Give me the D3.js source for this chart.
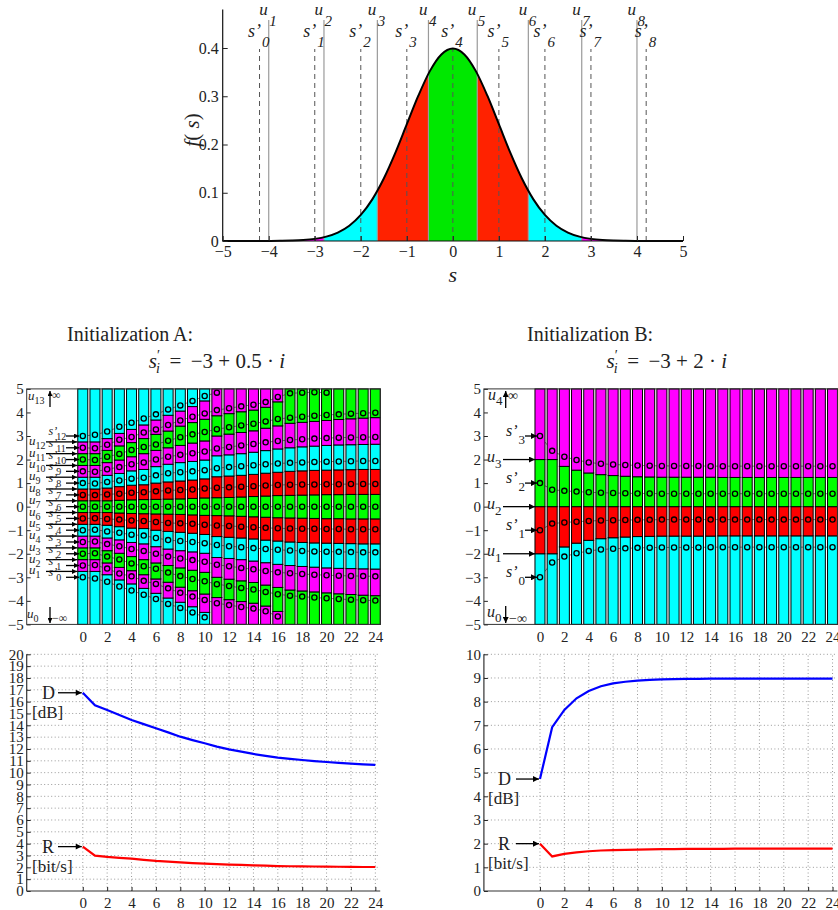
<!DOCTYPE html>
<html>
<head>
<meta charset="utf-8">
<script src="https://cdnjs.cloudflare.com/ajax/libs/d3/7.8.5/d3.min.js"></script>
<style>
  body { margin: 0; background: #fff; }
  text { font-family: "Liberation Serif", "Times New Roman", serif; fill: #222; }
</style>
</head>
<body>
<script>
// ---------- data ----------

// top panel: source density f(s), read at s = -5 .. 5 (step 0.25)
var pdfS = [-5,-4.75,-4.5,-4.25,-4,-3.75,-3.5,-3.25,-3,-2.75,-2.5,-2.25,-2,-1.75,-1.5,-1.25,-1,-0.75,-0.5,-0.25,
            0,0.25,0.5,0.75,1,1.25,1.5,1.75,2,2.25,2.5,2.75,3,3.25,3.5,3.75,4,4.25,4.5,4.75,5];
var pdfF = [0,0,0,0,0.0001,0.0004,0.0009,0.0020,0.0044,0.0091,0.0175,0.0317,0.0540,0.0863,0.1295,0.1826,0.2420,0.3011,0.3521,0.3867,
            0.3989,0.3867,0.3521,0.3011,0.2420,0.1826,0.1295,0.0863,0.0540,0.0317,0.0175,0.0091,0.0044,0.0020,0.0009,0.0004,0.0001,0,0,0,0];
var topU = [-4.0, -2.8, -1.64, -0.53, 0.53, 1.64, 2.8, 4.0];          // u_1 .. u_8
var topS = [-4.2, -3.0, -2.0, -1.0, 0, 1.0, 2.0, 3.0, 4.2];           // s'_0 .. s'_8
var topCells = ["g","m","c","r","g","r","c","m","g"];

var iters = [0,1,2,3,4,5,6,7,8,9,10,11,12,13,14,15,16,17,18,19,20,21,22,23,24];
var xTicks = [0,2,4,6,8,10,12,14,16,18,20,22,24];

// initialization A: cell boundaries u and reproduction values s' per iteration
var boundsA = [
  [-2.75,-2.25,-1.75,-1.25,-0.75,-0.25,0.25,0.75,1.25,1.75,2.25,2.75],
  [-2.75,-2.25,-1.75,-1.25,-0.75,-0.25,0.25,0.75,1.25,1.75,2.25,2.75],
  [-2.89,-2.39,-1.87,-1.33,-0.79,-0.25,0.25,0.79,1.33,1.87,2.39,2.89],
  [-3.11,-2.58,-1.98,-1.41,-0.85,-0.27,0.27,0.85,1.41,1.98,2.58,3.11],
  [-3.28,-2.72,-2.12,-1.52,-0.91,-0.29,0.29,0.91,1.52,2.12,2.72,3.28],
  [-3.47,-2.89,-2.25,-1.58,-0.93,-0.30,0.30,0.93,1.58,2.25,2.89,3.47],
  [-3.68,-3.07,-2.39,-1.70,-1.00,-0.31,0.31,1.00,1.70,2.39,3.07,3.68],
  [-3.88,-3.21,-2.50,-1.80,-1.05,-0.32,0.32,1.05,1.80,2.50,3.21,3.88],
  [-4.06,-3.42,-2.60,-1.87,-1.09,-0.33,0.33,1.09,1.87,2.60,3.42,4.06],
  [-4.25,-3.57,-2.70,-1.92,-1.13,-0.35,0.35,1.13,1.92,2.70,3.57,4.25],
  [-4.49,-3.71,-2.79,-1.98,-1.18,-0.37,0.37,1.18,1.98,2.79,3.71,4.49],
  [-3.86,-3.00,-2.16,-1.27,-0.38,0.38,1.27,2.16,3.00,3.86],
  [-3.95,-3.08,-2.20,-1.30,-0.39,0.39,1.30,2.20,3.08,3.95],
  [-4.03,-3.15,-2.25,-1.33,-0.41,0.41,1.33,2.25,3.15,4.03],
  [-4.10,-3.22,-2.31,-1.37,-0.43,0.43,1.37,2.31,3.22,4.10],
  [-4.22,-3.33,-2.38,-1.42,-0.45,0.45,1.42,2.38,3.33,4.22],
  [-4.45,-3.43,-2.45,-1.46,-0.47,0.47,1.46,2.45,3.43,4.45],
  [-3.54,-2.50,-1.50,-0.48,0.48,1.50,2.50,3.54],
  [-3.58,-2.54,-1.52,-0.49,0.49,1.52,2.54,3.58],
  [-3.62,-2.57,-1.54,-0.50,0.50,1.54,2.57,3.62],
  [-3.66,-2.60,-1.55,-0.51,0.51,1.55,2.60,3.66],
  [-3.70,-2.62,-1.56,-0.51,0.51,1.56,2.62,3.70],
  [-3.73,-2.63,-1.57,-0.52,0.52,1.57,2.63,3.73],
  [-3.76,-2.64,-1.58,-0.52,0.52,1.58,2.64,3.76],
  [-3.78,-2.65,-1.58,-0.52,0.52,1.58,2.65,3.78]
];
var pointsA = [
  [-3,-2.5,-2,-1.5,-1,-0.5,0,0.5,1,1.5,2,2.5,3],
  [-3.05,-2.48,-1.98,-1.48,-0.98,-0.49,0,0.49,0.98,1.48,1.98,2.48,3.05],
  [-3.19,-2.63,-2.12,-1.59,-1.05,-0.52,0,0.52,1.05,1.59,2.12,2.63,3.19],
  [-3.39,-2.84,-2.24,-1.68,-1.11,-0.55,0,0.55,1.11,1.68,2.24,2.84,3.39],
  [-3.56,-2.96,-2.41,-1.80,-1.19,-0.59,0,0.59,1.19,1.80,2.41,2.96,3.56],
  [-3.74,-3.15,-2.53,-1.88,-1.23,-0.61,0,0.61,1.23,1.88,2.53,3.15,3.74],
  [-3.92,-3.28,-2.64,-2.00,-1.33,-0.65,0,0.65,1.33,2.00,2.64,3.28,3.92],
  [-4.13,-3.47,-2.80,-2.12,-1.42,-0.69,0,0.69,1.42,2.12,2.80,3.47,4.13],
  [-4.30,-3.66,-2.95,-2.20,-1.46,-0.71,0,0.71,1.46,2.20,2.95,3.66,4.30],
  [-4.49,-3.82,-3.07,-2.27,-1.50,-0.73,0,0.73,1.50,2.27,3.07,3.82,4.49],
  [-4.70,-3.96,-3.17,-2.34,-1.55,-0.77,0,0.77,1.55,2.34,3.17,3.96,4.70],
  [-4.10,-3.29,-2.47,-1.63,-0.80,0,0.80,1.63,2.47,3.29,4.10,4.84],
  [-4.18,-3.37,-2.53,-1.68,-0.82,0,0.82,1.68,2.53,3.37,4.18],
  [-4.26,-3.45,-2.60,-1.72,-0.85,0,0.85,1.72,2.60,3.45,4.26],
  [-4.33,-3.52,-2.66,-1.76,-0.87,0,0.87,1.76,2.66,3.52,4.33],
  [-4.44,-3.62,-2.73,-1.80,-0.90,0,0.90,1.80,2.73,3.62,4.44],
  [-4.66,-3.72,-2.79,-1.83,-0.92,0,0.92,1.83,2.79,3.72,4.66],
  [-3.78,-2.83,-1.86,-0.93,0,0.93,1.86,2.83,3.78,4.81],
  [-3.82,-2.86,-1.88,-0.94,0,0.94,1.88,2.86,3.82,4.84],
  [-3.86,-2.89,-1.90,-0.94,0,0.94,1.90,2.89,3.86,4.86],
  [-3.89,-2.91,-1.91,-0.95,0,0.95,1.91,2.91,3.89,4.84],
  [-3.92,-2.93,-1.92,-0.95,0,0.95,1.92,2.93,3.92],
  [-3.95,-2.94,-1.93,-0.96,0,0.96,1.93,2.94,3.95],
  [-3.97,-2.95,-1.94,-0.96,0,0.96,1.94,2.95,3.97],
  [-3.99,-2.96,-1.94,-0.96,0,0.96,1.94,2.96,3.99]
];
var cells13 = ["c","m","g","m","c","r","g","r","c","m","g","m","c"];
var cells11 = ["m","g","m","c","r","g","r","c","m","g","m"];
var cells9  = ["g","m","c","r","g","r","c","m","g"];

// initialization B
var boundsB = [
  [-2.00,0,2.00],[-2.00,0,2.00],[-1.71,0,1.71],[-1.55,0,1.55],[-1.43,0,1.43],
  [-1.36,0,1.36],[-1.32,0,1.32],[-1.29,0,1.29],[-1.27,0,1.27],[-1.26,0,1.26],
  [-1.25,0,1.25],[-1.25,0,1.25],[-1.25,0,1.25],[-1.25,0,1.25],[-1.25,0,1.25],
  [-1.24,0,1.24],[-1.24,0,1.24],[-1.24,0,1.24],[-1.24,0,1.24],[-1.24,0,1.24],
  [-1.24,0,1.24],[-1.24,0,1.24],[-1.24,0,1.24],[-1.24,0,1.24],[-1.24,0,1.24]
];
var pointsB = [
  [-3.00,-1.00,1.00,3.00],[-2.37,-0.72,0.72,2.37],[-2.12,-0.67,0.67,2.12],[-1.98,-0.64,0.64,1.98],
  [-1.88,-0.61,0.61,1.88],[-1.82,-0.59,0.59,1.82],[-1.79,-0.58,0.58,1.79],[-1.77,-0.57,0.57,1.77],
  [-1.75,-0.56,0.56,1.75],[-1.74,-0.56,0.56,1.74],[-1.73,-0.55,0.55,1.73],[-1.73,-0.55,0.55,1.73],
  [-1.73,-0.55,0.55,1.73],[-1.73,-0.55,0.55,1.73],[-1.72,-0.55,0.55,1.72],[-1.72,-0.55,0.55,1.72],
  [-1.72,-0.55,0.55,1.72],[-1.72,-0.55,0.55,1.72],[-1.72,-0.55,0.55,1.72],[-1.72,-0.55,0.55,1.72],
  [-1.72,-0.55,0.55,1.72],[-1.72,-0.55,0.55,1.72],[-1.72,-0.55,0.55,1.72],[-1.72,-0.55,0.55,1.72],
  [-1.72,-0.55,0.55,1.72]
];
var cellsB = ["c","r","g","m"];

// distortion D [dB] and rate R [bit/s] per iteration
var distA = [16.75,15.7,15.3,14.88,14.45,14.1,13.75,13.4,13.04,12.75,12.48,12.2,11.97,11.77,11.58,11.42,11.27,11.16,11.07,10.98,10.9,10.83,10.76,10.7,10.65];
var rateA = [3.75,2.99,2.88,2.8,2.73,2.63,2.54,2.48,2.42,2.36,2.31,2.27,2.23,2.2,2.17,2.14,2.11,2.09,2.08,2.07,2.06,2.05,2.04,2.03,2.03];
var distB = [4.73,6.92,7.65,8.14,8.45,8.65,8.77,8.84,8.89,8.92,8.94,8.95,8.96,8.96,8.97,8.97,8.97,8.97,8.97,8.97,8.97,8.97,8.97,8.97,8.97];
var rateB = [2.0,1.46,1.57,1.63,1.68,1.71,1.73,1.74,1.75,1.76,1.77,1.77,1.78,1.78,1.78,1.78,1.79,1.79,1.79,1.79,1.79,1.79,1.79,1.79,1.79];

// ---------- drawing ----------
var colorOf = { c: "#00ffff", m: "#ff00ff", g: "#00ff00", r: "#ff0000" };
var topColorOf = { c: "#00ffff", m: "#ff00ff", g: "#00e800", r: "#ff2200" };

var svg = d3.select("body").append("svg")
    .attr("width", 838)
    .attr("height", 910);

var defs = svg.append("defs");
function marker(id, w, h) {
    defs.append("marker")
        .attr("id", id)
        .attr("viewBox", "0 0 10 10")
        .attr("refX", 10).attr("refY", 5)
        .attr("markerWidth", w).attr("markerHeight", h)
        .attr("markerUnits", "userSpaceOnUse")
        .attr("orient", "auto")
        .append("path").attr("d", "M0,0L10,5L0,10z").attr("fill", "#000");
}
marker("arrS", 6, 5);
marker("arrL", 8, 6);

function styleAxis(g, size) {
    g.select(".domain").remove();
    g.selectAll("line").attr("stroke", "#222");
    g.selectAll("text")
        .attr("font-family", '"Liberation Serif", "Times New Roman", serif')
        .attr("font-size", size)
        .attr("fill", "#222");
}

function arrow(x1, y1, x2, y2, m) {
    svg.append("line")
        .attr("x1", x1).attr("y1", y1).attr("x2", x2).attr("y2", y2)
        .attr("stroke", "#000").attr("stroke-width", 1.3)
        .attr("marker-end", "url(#" + m + ")");
}

function label(x, y, main, sub, size, subSize, dx, dy) {
    var t = svg.append("text")
        .attr("x", x).attr("y", y)
        .attr("font-size", size);
    t.append("tspan").attr("font-style", "italic").text(main);
    t.append("tspan").attr("font-size", subSize).attr("dx", dx).attr("dy", dy).text(sub);
    return t;
}

// ----- top panel -----
var xTop = d3.scaleLinear().domain([-5, 5]).range([222.7, 683]);
var yTop = d3.scaleLinear().domain([0, 0.48]).range([241, 9.4]);
var topEdges = [-5].concat(topU, [5]);

var area = d3.area()
    .x((d, i) => xTop(pdfS[i]))
    .y0(yTop(0))
    .y1(d => yTop(d))
    .curve(d3.curveMonotoneX);

topCells.forEach(function (c, k) {
    defs.append("clipPath").attr("id", "tc" + k)
        .append("rect")
        .attr("x", xTop(topEdges[k])).attr("y", 0)
        .attr("width", xTop(topEdges[k + 1]) - xTop(topEdges[k]))
        .attr("height", 245);
    svg.append("path").datum(pdfF)
        .attr("d", area)
        .attr("fill", topColorOf[c])
        .attr("clip-path", "url(#tc" + k + ")");
});

svg.selectAll(".uline")
    .data(topU)
    .enter()
    .append("line")
    .attr("class", "uline")
    .attr("x1", d => xTop(d)).attr("x2", d => xTop(d))
    .attr("y1", yTop(0)).attr("y2", 20)
    .attr("stroke", "#9a9a9a").attr("stroke-width", 1.2);

svg.selectAll(".sline")
    .data(topS)
    .enter()
    .append("line")
    .attr("class", "sline")
    .attr("x1", d => xTop(d)).attr("x2", d => xTop(d))
    .attr("y1", yTop(0)).attr("y2", 49)
    .attr("stroke", "#555").attr("stroke-width", 1)
    .attr("stroke-dasharray", "5,4");

svg.append("path").datum(pdfF)
    .attr("d", d3.line().x((d, i) => xTop(pdfS[i])).y(d => yTop(d)).curve(d3.curveMonotoneX))
    .attr("fill", "none").attr("stroke", "#000").attr("stroke-width", 2);

svg.append("line").attr("x1", xTop(-5)).attr("x2", xTop(-5)).attr("y1", yTop(0)).attr("y2", 9.4)
    .attr("stroke", "#111").attr("stroke-width", 1.2);
svg.append("line").attr("x1", xTop(-5)).attr("x2", xTop(5)).attr("y1", yTop(0)).attr("y2", yTop(0))
    .attr("stroke", "#111").attr("stroke-width", 1.2);

var gTy = svg.append("g").attr("transform", "translate(" + xTop(-5) + ",0)")
    .call(d3.axisLeft(yTop).tickValues([0, 0.1, 0.2, 0.3, 0.4])
        .tickFormat(d => d === 0 ? "0" : d3.format(".1f")(d))
        .tickSize(-5).tickPadding(4));
styleAxis(gTy, 16);
var gTx = svg.append("g").attr("transform", "translate(0," + yTop(0) + ")")
    .call(d3.axisBottom(xTop).tickValues([-5, -4, -3, -2, -1, 0, 1, 2, 3, 4, 5])
        .tickSize(-5).tickPadding(5));
styleAxis(gTx, 16);

topU.forEach(function (u, k) {
    var x = xTop(u);
    svg.append("text").attr("x", x - 1).attr("y", 15).attr("text-anchor", "end")
        .attr("font-size", 17).attr("font-style", "italic").text("u");
    svg.append("text").attr("x", x + 0.5).attr("y", 26)
        .attr("font-size", 15).attr("font-style", "italic").text(k + 1);
});
topS.forEach(function (s, k) {
    var x = xTop(s);
    svg.append("text").attr("x", x + 1.5).attr("y", 37).attr("text-anchor", "end")
        .attr("font-size", 18).attr("font-style", "italic").text("s\u2019");
    svg.append("text").attr("x", x + 2.5).attr("y", 47)
        .attr("font-size", 15).attr("font-style", "italic").text(k);
});

svg.append("text").attr("x", xTop(0)).attr("y", 282).attr("text-anchor", "middle")
    .attr("font-size", 22).attr("font-style", "italic").text("s");
var fl = svg.append("text").attr("transform", "translate(199,130) rotate(-90)")
    .attr("text-anchor", "middle").attr("font-size", 21);
fl.append("tspan").attr("font-style", "italic").text("f");
fl.append("tspan").text("( ");
fl.append("tspan").attr("font-style", "italic").text("s");
fl.append("tspan").text(")");

// ----- titles -----
function title(x, y, name, step, fEnd) {
    svg.append("text").attr("x", x).attr("y", y).attr("font-size", 20).text("Initialization " + name + ":");
    var t = svg.append("text").attr("x", fEnd).attr("y", y + 27)
        .attr("font-size", 21).attr("text-anchor", "end");
    t.append("tspan").attr("font-style", "italic").text("s");
    t.append("tspan").attr("font-size", 14).attr("dy", -8).text("\u2032");
    t.append("tspan").attr("font-size", 14).attr("dy", 13).attr("dx", -4).attr("font-style", "italic").text("i");
    t.append("tspan").attr("dy", -5).text("\u2009 = \u2009\u22123 + " + step + " \u00b7 ");
    t.append("tspan").attr("font-style", "italic").text("i");
}
title(67, 341, "A", "0.5", 285);
title(527, 341, "B", "2", 727);

// ----- iteration panels -----
var yMid = d3.scaleLinear().domain([-5, 5]).range([624.4, 388.9]);

function iterX(left) {
    return d3.scaleLinear().domain([-4.6, 24.4]).range([left, left + 29 * 12.19]);
}

function cellPanel(x, bounds, points, pickCells) {
    var bw = 10;
    // grey tracks of the reproduction values
    var segs = [];
    for (var i = 0; i < iters.length - 1; i++) {
        var a = points[i], b = points[i + 1];
        var ma = a.indexOf(0), mb = b.indexOf(0);
        for (var o = -ma; o < a.length - ma; o++) {
            if (mb + o >= 0 && mb + o < b.length) {
                segs.push([iters[i], a[ma + o], iters[i + 1], b[mb + o]]);
            }
        }
    }
    svg.append("g").selectAll("line")
        .data(segs)
        .enter()
        .append("line")
        .attr("x1", d => x(d[0])).attr("y1", d => yMid(d[1]))
        .attr("x2", d => x(d[2])).attr("y2", d => yMid(d[3]))
        .attr("stroke", "#8a8a8a").attr("stroke-width", 1);

    var gy = svg.append("g").attr("transform", "translate(" + x.range()[0] + ",0)")
        .call(d3.axisLeft(yMid).tickValues([-5, -4, -3, -2, -1, 0, 1, 2, 3, 4, 5]).tickSize(-4).tickPadding(3));
    styleAxis(gy, 15);
    var gx = svg.append("g").attr("transform", "translate(0," + yMid(-5) + ")")
        .call(d3.axisBottom(x).tickValues(xTicks).tickSize(0).tickPadding(7));
    styleAxis(gx, 15);

    iters.forEach(function (it) {
        var edges = [-5].concat(bounds[it], [5]);
        var cells = pickCells(edges.length - 1);
        svg.append("g").selectAll("rect")
            .data(cells)
            .enter()
            .append("rect")
            .attr("x", x(it) - bw / 2).attr("width", bw)
            .attr("y", (d, k) => yMid(edges[k + 1]))
            .attr("height", (d, k) => yMid(edges[k]) - yMid(edges[k + 1]))
            .attr("fill", d => colorOf[d])
            .attr("stroke", "#000").attr("stroke-width", 1);
        svg.append("g").selectAll("circle")
            .data(points[it])
            .enter()
            .append("circle")
            .attr("cx", x(it)).attr("cy", d => yMid(d)).attr("r", 2.6)
            .attr("fill", "none").attr("stroke", "#000").attr("stroke-width", 1.3);
    });

    svg.append("rect")
        .attr("x", x.range()[0]).attr("y", yMid(5))
        .attr("width", x.range()[1] - x.range()[0]).attr("height", yMid(-5) - yMid(5))
        .attr("fill", "none").attr("stroke", "#333").attr("stroke-width", 1);
}

var xA = iterX(26.7);
var xB = iterX(483.9);

cellPanel(xA, boundsA, pointsA, n => n === 13 ? cells13 : (n === 11 ? cells11 : cells9));
cellPanel(xB, boundsB, pointsB, n => cellsB);

// labels on the left of panel A
boundsA[0].forEach(function (u, k) {
    var y = yMid(u);
    label(29, y + 3, "u", k + 1, 13, 10, 0, 4).attr("fill", "#444");
    arrow(46, y, 77, y, "arrS");
});
pointsA[0].forEach(function (s, k) {
    var y = yMid(s);
    label(48.5, y - 1, "s\u2019", k, 12, 10, -1, 5).attr("fill", "#444");
    arrow(66, y, 79, y, "arrS");
});
label(28, 400, "u", 13, 13, 10, 0, 4);
arrow(50, 407, 50, 391, "arrS");
svg.append("text").attr("x", 52).attr("y", 399).attr("font-size", 12).text("\u221e");
label(27, 618, "u", 0, 13, 10, 0, 4);
arrow(50, 607, 50, 623, "arrS");
svg.append("text").attr("x", 52).attr("y", 622).attr("font-size", 12).text("\u2212\u221e");

// labels on the left of panel B
boundsB[0].forEach(function (u, k) {
    var y = yMid(u);
    label(487, y + 2, "u", k + 1, 16, 13, 0, 6).attr("fill", "#444");
    arrow(503, y, 535, y, "arrL");
});
pointsB[0].forEach(function (s, k) {
    var y = yMid(s);
    label(506, y, "s\u2019", k, 16, 13, 1, 8).attr("fill", "#444");
    arrow(525, y, 537, y, "arrL");
});
label(488, 400, "u", 4, 16, 13, 0, 5);
arrow(505.7, 408, 505.7, 391, "arrL");
svg.append("text").attr("x", 508).attr("y", 400).attr("font-size", 14).text("\u221e");
label(487, 617, "u", 0, 16, 13, 0, 5);
arrow(505.7, 606, 505.7, 623, "arrL");
svg.append("text").attr("x", 509).attr("y", 623).attr("font-size", 14).text("\u2212\u221e");

// ----- D / R panels -----
function linePanel(x, y, yMax, dist, rate) {
    var left = x.range()[0], right = x.range()[1];
    var yTicks = d3.range(0, yMax + 1);
    svg.append("g").selectAll("line")
        .data(yTicks.slice(1))
        .enter()
        .append("line")
        .attr("x1", left).attr("x2", right)
        .attr("y1", d => y(d)).attr("y2", d => y(d))
        .attr("stroke", "#999").attr("stroke-width", 1).attr("stroke-dasharray", "1,2.5");
    svg.append("g").selectAll("line")
        .data(xTicks)
        .enter()
        .append("line")
        .attr("x1", d => x(d)).attr("x2", d => x(d))
        .attr("y1", y(0)).attr("y2", y(yMax))
        .attr("stroke", "#999").attr("stroke-width", 1).attr("stroke-dasharray", "1,2.5");

    var gy = svg.append("g").attr("transform", "translate(" + left + ",0)")
        .call(d3.axisLeft(y).tickValues(yTicks).tickFormat(d3.format("d")).tickSize(-4).tickPadding(3));
    styleAxis(gy, 15);
    var gx = svg.append("g").attr("transform", "translate(0," + y(0) + ")")
        .call(d3.axisBottom(x).tickValues(xTicks).tickSize(-4).tickPadding(6));
    styleAxis(gx, 15);
    svg.append("line").attr("x1", left).attr("x2", left).attr("y1", y(0)).attr("y2", y(yMax))
        .attr("stroke", "#333").attr("stroke-width", 1.2);
    svg.append("line").attr("x1", left).attr("x2", right).attr("y1", y(0)).attr("y2", y(0))
        .attr("stroke", "#333").attr("stroke-width", 1.2);

    var line = d3.line().x((d, i) => x(iters[i])).y(d => y(d));
    svg.append("path").datum(dist).attr("d", line)
        .attr("fill", "none").attr("stroke", "#0000ff").attr("stroke-width", 2.2);
    svg.append("path").datum(rate).attr("d", line)
        .attr("fill", "none").attr("stroke", "#ff0000").attr("stroke-width", 2.2);
}

var yDA = d3.scaleLinear().domain([0, 20]).range([891, 654.3]);
var yDB = d3.scaleLinear().domain([0, 10]).range([891, 654.3]);
linePanel(xA, yDA, 20, distA, rateA);
linePanel(xB, yDB, 10, distB, rateB);

function tag(x, y, main, unit) {
    svg.append("text").attr("x", x).attr("y", y + 6).attr("font-size", 18).attr("fill", "#111").text(main);
    svg.append("text").attr("x", x - 10).attr("y", y + 25).attr("font-size", 17).attr("fill", "#111").text(unit);
}
tag(42, yDA(distA[0]), "D", "[dB]");
arrow(58, yDA(distA[0]), xA(0) - 1, yDA(distA[0]), "arrL");
tag(42, yDA(rateA[0]), "R", "[bit/s]");
arrow(58, yDA(rateA[0]), xA(0) - 1, yDA(rateA[0]), "arrL");
tag(498, yDB(distB[0]), "D", "[dB]");
arrow(516, yDB(distB[0]), xB(0) - 1, yDB(distB[0]), "arrL");
tag(498, yDB(rateB[0]), "R", "[bit/s]");
arrow(516, yDB(rateB[0]), xB(0) - 1, yDB(rateB[0]), "arrL");
</script>
</body>
</html>
